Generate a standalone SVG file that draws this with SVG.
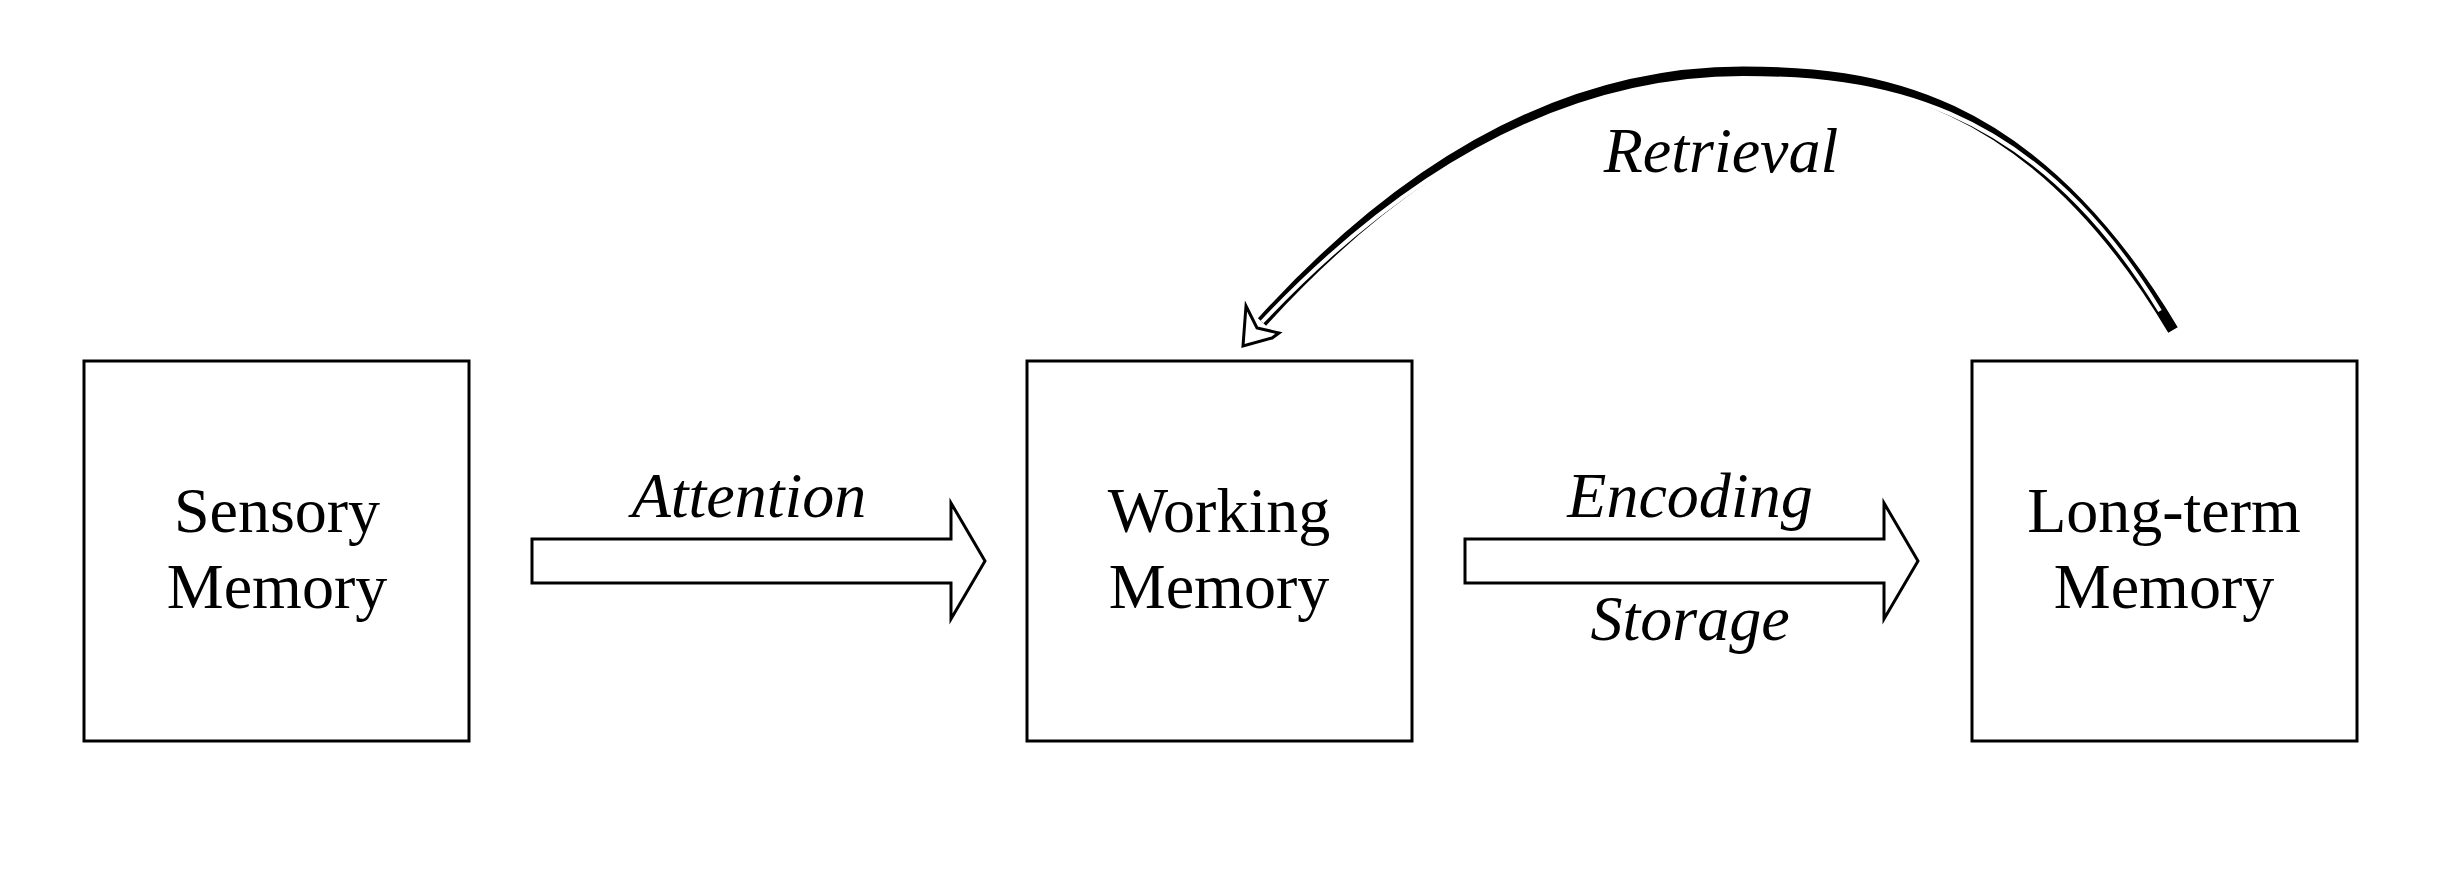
<svg xmlns="http://www.w3.org/2000/svg" width="2439" height="878" viewBox="0 0 2439 878">
<style>
.box{fill:#fff;stroke:#000;stroke-width:3}
.t{font-family:"Liberation Serif",serif;font-size:64px;text-anchor:middle;fill:#000}
.l{font-family:"Liberation Serif",serif;font-size:64px;font-style:italic;text-anchor:middle;fill:#000}
.arr{fill:#fff;stroke:#000;stroke-width:3;stroke-linejoin:miter}
</style>
<rect width="2439" height="878" fill="#fff"/>
<g id="sensory"><rect class="box" x="84" y="361" width="385" height="380"/><text class="t" x="277" y="532">Sensory</text><text class="t" x="277" y="608">Memory</text></g>
<g id="working"><rect class="box" x="1027" y="361" width="385" height="380"/><text class="t" x="1219" y="532">Working</text><text class="t" x="1219" y="608">Memory</text></g>
<g id="longterm"><rect class="box" x="1972" y="361" width="385" height="380"/><text class="t" x="2164" y="532">Long-term</text><text class="t" x="2164" y="608">Memory</text></g>
<g id="connectors">
<polygon class="arr" points="532,539 951,539 951,503 985,561 951,619 951,583 532,583"/>
<text class="l" x="749" y="517">Attention</text>
<polygon class="arr" points="1465,539 1884,539 1884,503 1918,561 1884,619 1884,583 1465,583"/>
<text class="l" x="1690" y="517">Encoding</text>
<text class="l" x="1690" y="640">Storage</text>
<path d="M2173,330 C2030,90 1870,72 1743,72 C1560,72 1400,170 1262,322" fill="none" stroke="#000" stroke-width="11"/>
<path d="M2160,311 C2030,96 1870,78 1743,78 C1560,78 1400,176 1262,322" fill="none" stroke="#fff" stroke-width="4"/>
<polygon class="arr" points="1246,306 1257,328 1279,333 1272,338 1243,346"/>
<text class="l" x="1721" y="172">Retrieval</text>
</g>
</svg>
